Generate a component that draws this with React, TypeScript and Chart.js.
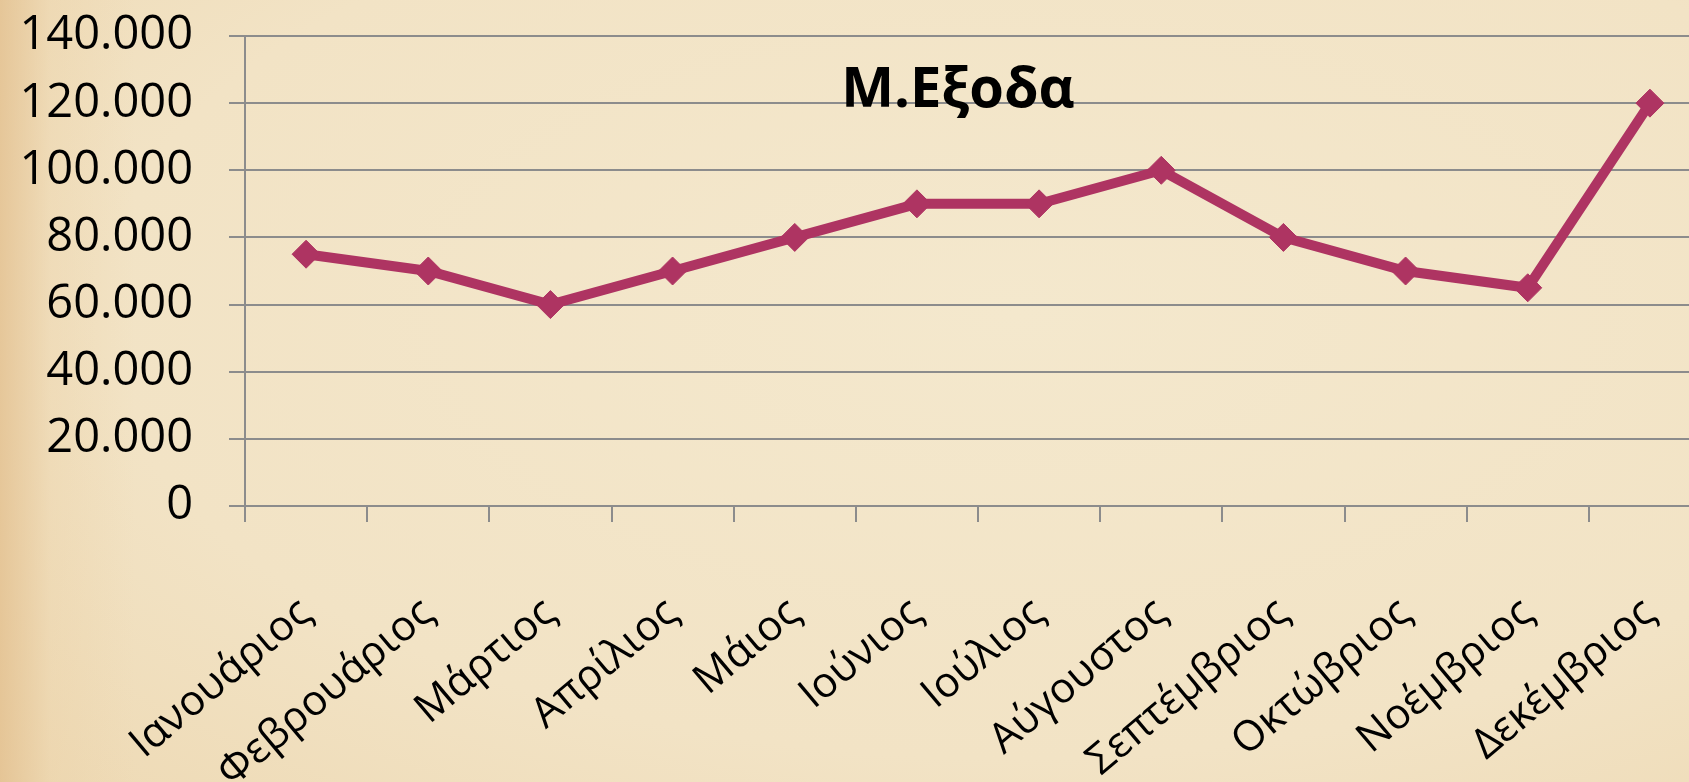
import React, { useEffect, useRef } from "react";
import { Chart, registerables } from "chart.js";

Chart.register(...registerables);

const categories = [
  "Ιανουάριος",
  "Φεβρουάριος",
  "Μάρτιος",
  "Απρίλιος",
  "Μάιος",
  "Ιούνιος",
  "Ιούλιος",
  "Αύγουστος",
  "Σεπτέμβριος",
  "Οκτώβριος",
  "Νοέμβριος",
  "Δεκέμβριος",
];

const expenses = [75000, 70000, 60000, 70000, 80000, 90000, 90000, 100000, 80000, 70000, 65000, 120000];

const yTicks = [0, 20000, 40000, 60000, 80000, 100000, 120000, 140000];

const chartTitle = "Μ.Εξοδα";

const formatThousands = (v: number) => String(v).replace(/\B(?=(\d{3})+(?!\d))/g, ".");

const titlePlugin = {
  id: "insideTitle",
  afterDatasetsDraw(chart: any) {
    const ctx = chart.ctx;
    ctx.save();
    ctx.font = "bold 56px 'Open Sans'";
    ctx.fillStyle = "#000000";
    ctx.textAlign = "center";
    ctx.textBaseline = "alphabetic";
    ctx.fillText(chartTitle, 958, 107);
    ctx.restore();
  },
};

export default function App() {
  const ref = useRef<HTMLCanvasElement | null>(null);

  useEffect(() => {
    if (!ref.current) return;
    const gray = "#8c8c8c";
    const chart = new Chart(ref.current, {
      type: "line",
      data: {
        labels: categories,
        datasets: [
          {
            label: chartTitle,
            data: expenses,
            borderColor: "#ae3462",
            backgroundColor: "#ae3462",
            borderWidth: 10,
            pointStyle: "rectRot",
            pointRadius: 14,
            pointBorderWidth: 1,
            pointBackgroundColor: "#ae3462",
            pointBorderColor: "#ae3462",
            tension: 0,
          },
        ],
      },
      plugins: [titlePlugin],
      options: {
        animation: false,
        responsive: false,
        maintainAspectRatio: false,
        layout: { padding: { left: 0, right: 19, top: 36, bottom: 0 } },
        plugins: {
          legend: { display: false },
          title: { display: false },
          tooltip: { enabled: false },
        },
        scales: {
          x: {
            offset: true,
            grid: {
              offset: true,
              drawOnChartArea: false,
              drawTicks: true,
              tickLength: 16,
              color: gray,
              lineWidth: 2,
            },
            border: { display: true, color: gray, width: 2 },
            ticks: {
              maxRotation: 40,
              minRotation: 40,
              padding: 66,
              color: "#000000",
              font: { family: "'Open Sans'", size: 42 },
              autoSkip: false,
            },
            afterFit: (s: any) => {
              s.height = 276;
              s.paddingLeft = 0;
              s.paddingRight = 0;
            },
          },
          y: {
            min: 0,
            max: 140000,
            afterBuildTicks: (s: any) => {
              s.ticks = yTicks.map((v) => ({ value: v }));
            },
            grid: {
              color: gray,
              lineWidth: 2,
              tickLength: 16,
            },
            border: { display: true, color: gray, width: 2 },
            ticks: {
              padding: 36,
              color: "#000000",
              font: { family: "'Open Sans'", size: 47 },
              callback: (v: any) => formatThousands(Number(v)),
            },
            afterFit: (s: any) => {
              s.width = 245;
              s.paddingTop = 0;
              s.paddingBottom = 0;
            },
          },
        },
      },
    });
    return () => chart.destroy();
  }, []);

  return (
    <div
      style={{
        position: "absolute",
        left: 0,
        top: 0,
        width: 1689,
        height: 782,
        overflow: "hidden",
        background:
          "linear-gradient(90deg, rgba(226,190,140,0.75) 0%, rgba(235,208,165,0.35) 3%, rgba(240,222,190,0) 8%), radial-gradient(ellipse 90% 95% at 60% 40%, #f4e8cd 0%, #f2e3c5 60%, #eedab5 90%, #ebd3aa 100%)",
      }}
    >
      <canvas ref={ref} width={1730} height={782} style={{ display: "block" }} />
    </div>
  );
}
